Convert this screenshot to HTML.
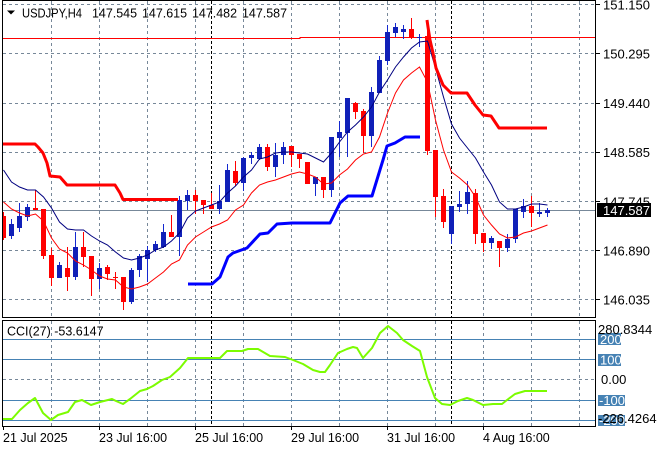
<!DOCTYPE html>
<html><head><meta charset="utf-8"><style>
html,body{margin:0;padding:0;background:#fff;}
svg{display:block;}
text{font-family:"Liberation Sans",Arial,sans-serif;}
</style></head><body>
<svg width="660" height="450" viewBox="0 0 660 450" xmlns="http://www.w3.org/2000/svg">
<rect width="660" height="450" fill="#fff"/>
<defs>
<clipPath id="m"><rect x="3" y="1" width="593" height="316"/></clipPath>
<clipPath id="c"><rect x="3" y="321" width="593" height="105"/></clipPath>
</defs>

<!-- main grid -->
<g stroke="#778899" stroke-width="1" stroke-dasharray="3,3" fill="none">
<line x1="51.5" y1="1" x2="51.5" y2="317"/><line x1="99.5" y1="1" x2="99.5" y2="317"/>
<line x1="147.5" y1="1" x2="147.5" y2="317"/><line x1="195.5" y1="1" x2="195.5" y2="317"/>
<line x1="243.5" y1="1" x2="243.5" y2="317"/><line x1="291.5" y1="1" x2="291.5" y2="317"/>
<line x1="339.5" y1="1" x2="339.5" y2="317"/><line x1="387.5" y1="1" x2="387.5" y2="317"/>
<line x1="435.5" y1="1" x2="435.5" y2="317"/><line x1="483.5" y1="1" x2="483.5" y2="317"/>
<line x1="531.5" y1="1" x2="531.5" y2="317"/><line x1="579.5" y1="1" x2="579.5" y2="317"/>
<line x1="3" y1="4.5" x2="596" y2="4.5"/><line x1="3" y1="53.5" x2="596" y2="53.5"/>
<line x1="3" y1="103.5" x2="596" y2="103.5"/><line x1="3" y1="152.5" x2="596" y2="152.5"/>
<line x1="3" y1="201.5" x2="596" y2="201.5"/><line x1="3" y1="250.5" x2="596" y2="250.5"/>
<line x1="3" y1="299.5" x2="596" y2="299.5"/>
</g>
<!-- CCI grid -->
<g stroke="#778899" stroke-width="1" stroke-dasharray="3,3" fill="none">
<line x1="51.5" y1="321" x2="51.5" y2="426"/><line x1="99.5" y1="321" x2="99.5" y2="426"/>
<line x1="147.5" y1="321" x2="147.5" y2="426"/><line x1="195.5" y1="321" x2="195.5" y2="426"/>
<line x1="243.5" y1="321" x2="243.5" y2="426"/><line x1="291.5" y1="321" x2="291.5" y2="426"/>
<line x1="339.5" y1="321" x2="339.5" y2="426"/><line x1="387.5" y1="321" x2="387.5" y2="426"/>
<line x1="435.5" y1="321" x2="435.5" y2="426"/><line x1="483.5" y1="321" x2="483.5" y2="426"/>
<line x1="531.5" y1="321" x2="531.5" y2="426"/><line x1="579.5" y1="321" x2="579.5" y2="426"/>
<line x1="3" y1="379.5" x2="596" y2="379.5"/>
</g>
<g stroke="#4682b4" stroke-width="1">
<line x1="3" y1="339.5" x2="596" y2="339.5"/><line x1="3" y1="359.5" x2="596" y2="359.5"/>
<line x1="3" y1="400.5" x2="596" y2="400.5"/><line x1="3" y1="420.5" x2="596" y2="420.5"/>
</g>
<!-- period separators -->
<g stroke="#000" stroke-width="1" stroke-dasharray="3,2">
<line x1="211.5" y1="1" x2="211.5" y2="317"/><line x1="451.5" y1="1" x2="451.5" y2="317"/>
<line x1="211.5" y1="321" x2="211.5" y2="426"/><line x1="451.5" y1="321" x2="451.5" y2="426"/>
</g>

<g clip-path="url(#m)">
<polyline points="3,38.5 300,38.5 300,37.5 596,37.5" fill="none" stroke="#ff0000" stroke-width="1"/>
<line x1="3" y1="210.5" x2="596" y2="210.5" stroke="#778899" stroke-width="1"/>

<!-- red candles -->
<g stroke="#ff0000" stroke-width="1">
<line x1="3.5" y1="212" x2="3.5" y2="240"/>
<line x1="35.5" y1="190" x2="35.5" y2="210"/>
<line x1="43.5" y1="209" x2="43.5" y2="259"/>
<line x1="51.5" y1="248" x2="51.5" y2="286"/>
<line x1="67.5" y1="247" x2="67.5" y2="291"/>
<line x1="83.5" y1="232" x2="83.5" y2="267"/>
<line x1="91.5" y1="256" x2="91.5" y2="296"/>
<line x1="107.5" y1="265" x2="107.5" y2="280"/>
<line x1="115.5" y1="272" x2="115.5" y2="289"/>
<line x1="123.5" y1="277" x2="123.5" y2="310"/>
<line x1="171.5" y1="215" x2="171.5" y2="237"/>
<line x1="195.5" y1="190" x2="195.5" y2="214"/>
<line x1="203.5" y1="200" x2="203.5" y2="214"/>
<line x1="211.5" y1="193" x2="211.5" y2="209"/>
<line x1="235.5" y1="161" x2="235.5" y2="186"/>
<line x1="267.5" y1="144" x2="267.5" y2="171"/>
<line x1="291.5" y1="146" x2="291.5" y2="167"/>
<line x1="299.5" y1="154" x2="299.5" y2="168"/>
<line x1="307.5" y1="162" x2="307.5" y2="184"/>
<line x1="323.5" y1="177" x2="323.5" y2="198"/>
<line x1="355.5" y1="102" x2="355.5" y2="119"/>
<line x1="363.5" y1="109" x2="363.5" y2="153"/>
<line x1="411.5" y1="18" x2="411.5" y2="39"/>
<line x1="427.5" y1="20" x2="427.5" y2="155"/>
<line x1="435.5" y1="150" x2="435.5" y2="217"/>
<line x1="443.5" y1="189" x2="443.5" y2="228"/>
<line x1="475.5" y1="189" x2="475.5" y2="244"/>
<line x1="483.5" y1="233" x2="483.5" y2="252"/>
<line x1="499.5" y1="241" x2="499.5" y2="267"/>
<line x1="531.5" y1="196" x2="531.5" y2="227"/>
</g>
<g fill="#ff0000">
<rect x="1" y="216" width="5" height="22"/>
<rect x="33" y="208" width="5" height="2"/>
<rect x="41" y="209" width="5" height="47"/>
<rect x="49" y="255" width="5" height="23"/>
<rect x="65" y="268" width="5" height="9"/>
<rect x="81" y="247" width="5" height="10"/>
<rect x="89" y="256" width="5" height="23"/>
<rect x="105" y="267" width="5" height="7"/>
<rect x="113" y="277" width="5" height="1"/>
<rect x="121" y="277" width="5" height="25"/>
<rect x="169" y="232" width="5" height="5"/>
<rect x="193" y="195" width="5" height="6"/>
<rect x="201" y="200" width="5" height="5"/>
<rect x="209" y="205" width="5" height="4"/>
<rect x="233" y="171" width="5" height="12"/>
<rect x="265" y="147" width="5" height="20"/>
<rect x="289" y="146" width="5" height="9"/>
<rect x="297" y="154" width="5" height="5"/>
<rect x="305" y="162" width="5" height="22"/>
<rect x="321" y="177" width="5" height="13"/>
<rect x="353" y="103" width="5" height="9"/>
<rect x="361" y="111" width="5" height="25"/>
<rect x="409" y="29" width="5" height="8"/>
<rect x="425" y="36" width="5" height="115"/>
<rect x="433" y="150" width="5" height="47"/>
<rect x="441" y="196" width="5" height="26"/>
<rect x="473" y="193" width="5" height="41"/>
<rect x="481" y="233" width="5" height="10"/>
<rect x="497" y="241" width="5" height="7"/>
<rect x="529" y="206" width="5" height="7"/>
</g>

<!-- blue candles -->
<g stroke="#1428d0" stroke-width="1">
<line x1="11.5" y1="219" x2="11.5" y2="239"/>
<line x1="19.5" y1="203" x2="19.5" y2="232"/>
<line x1="27.5" y1="204" x2="27.5" y2="221"/>
<line x1="59.5" y1="262" x2="59.5" y2="278"/>
<line x1="75.5" y1="232" x2="75.5" y2="280"/>
<line x1="99.5" y1="263" x2="99.5" y2="289"/>
<line x1="131.5" y1="268" x2="131.5" y2="304"/>
<line x1="139.5" y1="254" x2="139.5" y2="277"/>
<line x1="147.5" y1="246" x2="147.5" y2="282"/>
<line x1="155.5" y1="241" x2="155.5" y2="252"/>
<line x1="163.5" y1="224" x2="163.5" y2="248"/>
<line x1="179.5" y1="196" x2="179.5" y2="256"/>
<line x1="187.5" y1="190" x2="187.5" y2="210"/>
<line x1="219.5" y1="185" x2="219.5" y2="214"/>
<line x1="227.5" y1="164" x2="227.5" y2="202"/>
<line x1="243.5" y1="157" x2="243.5" y2="191"/>
<line x1="251.5" y1="152" x2="251.5" y2="164"/>
<line x1="259.5" y1="144" x2="259.5" y2="160"/>
<line x1="275.5" y1="143" x2="275.5" y2="177"/>
<line x1="283.5" y1="142" x2="283.5" y2="164"/>
<line x1="315.5" y1="177" x2="315.5" y2="196"/>
<line x1="331.5" y1="137" x2="331.5" y2="197"/>
<line x1="339.5" y1="121" x2="339.5" y2="157"/>
<line x1="347.5" y1="98" x2="347.5" y2="157"/>
<line x1="371.5" y1="87" x2="371.5" y2="147"/>
<line x1="379.5" y1="56" x2="379.5" y2="93"/>
<line x1="387.5" y1="25" x2="387.5" y2="65"/>
<line x1="395.5" y1="23" x2="395.5" y2="37"/>
<line x1="403.5" y1="25" x2="403.5" y2="39"/>
<line x1="419.5" y1="34" x2="419.5" y2="47"/>
<line x1="451.5" y1="206" x2="451.5" y2="244"/>
<line x1="459.5" y1="191" x2="459.5" y2="212"/>
<line x1="467.5" y1="181" x2="467.5" y2="214"/>
<line x1="491.5" y1="236" x2="491.5" y2="249"/>
<line x1="507.5" y1="234" x2="507.5" y2="252"/>
<line x1="515.5" y1="209" x2="515.5" y2="243"/>
<line x1="523.5" y1="199" x2="523.5" y2="218"/>
<line x1="539.5" y1="203" x2="539.5" y2="217"/>
<line x1="547.5" y1="208" x2="547.5" y2="217"/>
</g>
<g fill="#1020b8">
<rect x="9" y="224" width="5" height="12"/>
<rect x="17" y="216" width="5" height="12"/>
<rect x="25" y="207" width="5" height="10"/>
<rect x="57" y="265" width="5" height="13"/>
<rect x="73" y="247" width="5" height="30"/>
<rect x="97" y="268" width="5" height="11"/>
<rect x="129" y="270" width="5" height="32"/>
<rect x="137" y="256" width="5" height="14"/>
<rect x="145" y="250" width="5" height="9"/>
<rect x="153" y="244" width="5" height="6"/>
<rect x="161" y="232" width="5" height="15"/>
<rect x="177" y="200" width="5" height="37"/>
<rect x="185" y="195" width="5" height="6"/>
<rect x="217" y="201" width="5" height="8"/>
<rect x="225" y="170" width="5" height="32"/>
<rect x="241" y="158" width="5" height="25"/>
<rect x="249" y="155" width="5" height="3"/>
<rect x="257" y="147" width="5" height="12"/>
<rect x="273" y="155" width="5" height="12"/>
<rect x="281" y="147" width="5" height="8"/>
<rect x="313" y="177" width="5" height="7"/>
<rect x="329" y="137" width="5" height="53"/>
<rect x="337" y="132" width="5" height="6"/>
<rect x="345" y="98" width="5" height="35"/>
<rect x="369" y="92" width="5" height="44"/>
<rect x="377" y="60" width="5" height="33"/>
<rect x="385" y="32" width="5" height="29"/>
<rect x="393" y="27" width="5" height="6"/>
<rect x="401" y="29" width="5" height="3"/>
<rect x="417" y="37" width="5" height="1"/>
<rect x="449" y="206" width="5" height="28"/>
<rect x="457" y="204" width="5" height="3"/>
<rect x="465" y="192" width="5" height="12"/>
<rect x="489" y="238" width="5" height="5"/>
<rect x="505" y="239" width="5" height="9"/>
<rect x="513" y="209" width="5" height="30"/>
<rect x="521" y="206" width="5" height="6"/>
<rect x="537" y="212" width="5" height="2"/>
<rect x="545" y="210" width="5" height="3"/>
</g>

<!-- indicators -->
<polyline fill="none" stroke="#ff0000" stroke-width="1" points="3.5,202 11.5,209 19.5,213 27.5,216 35.5,214 43.5,221 51.5,238 59.5,249 67.5,253 75.5,261 83.5,265 91.5,270 99.5,276 107.5,279 115.5,280 123.5,287 131.5,289 139.5,287 147.5,284 155.5,278 163.5,272 171.5,264 179.5,260 187.5,245 195.5,237 203.5,232 211.5,227 219.5,224 227.5,220 235.5,210 243.5,205 251.5,193 259.5,185 267.5,182 275.5,180 283.5,177 291.5,174 299.5,172 307.5,174 315.5,177 323.5,184 331.5,183 339.5,175 347.5,169 355.5,160 363.5,154 371.5,152 379.5,137 387.5,113 395.5,93 403.5,80 411.5,73 419.5,67 427.5,82 435.5,120 443.5,150 451.5,172 459.5,178 467.5,185 475.5,197 483.5,215 491.5,225 499.5,234 507.5,238 515.5,237 523.5,233 531.5,231 539.5,228 547.5,225"/>
<polyline fill="none" stroke="#000080" stroke-width="1" points="3.5,170 11.5,182 19.5,187 27.5,190 35.5,190 43.5,197 51.5,208 59.5,222 67.5,229 75.5,230 83.5,230 91.5,236 99.5,241 107.5,245 115.5,252 123.5,258 131.5,260 139.5,258 147.5,255 155.5,250 163.5,247 171.5,241 179.5,233 187.5,218 195.5,211 203.5,208 211.5,205 219.5,202 227.5,193 235.5,186 243.5,177 251.5,170 259.5,159 267.5,157 275.5,153 283.5,152 291.5,152 299.5,153 307.5,154 315.5,158 323.5,162 331.5,153 339.5,142 347.5,132 355.5,125 363.5,117 371.5,107 379.5,92 387.5,80 395.5,67 403.5,57 411.5,48 419.5,42 427.5,41 435.5,68 443.5,97 451.5,124 459.5,138 467.5,148 475.5,158 483.5,172 491.5,185 499.5,202 507.5,209 515.5,209 523.5,207 531.5,204 539.5,204 547.5,205"/>
<polyline fill="none" stroke="#ff0000" stroke-width="3" stroke-linejoin="round" points="3,144 35,144 38,147 43,153 47,163 50,176 60,177 67,185 115,185 120,193 123,199.5 178,199.5"/>
<polyline fill="none" stroke="#ff0000" stroke-width="3" stroke-linejoin="round" points="427,20 428,27 430,40 433,53 436,68 443,85 451,93 467,93 475,105 483,115 491,116 499,128 547,128"/>
<polyline fill="none" stroke="#0000ff" stroke-width="3" stroke-linejoin="round" points="188,284 212,284 220,277 228,257 233,253 247,248 260,234 268,233 277,224 292,223 330,223 340,203 348,196 372,196 383,160 387,146 395,143 405,137 420,137"/>
</g>

<!-- CCI line -->
<g clip-path="url(#c)">
<polyline fill="none" stroke="#7cfc00" stroke-width="2" stroke-linejoin="round" points="3,419 12,419 20,410 28,403 35,398 43,413 51,420 58,415 68,412 75,402 82,400 91,405 100,402 112,399 116,401 123,404 130,399 140,391 147,389 153,386 162,380 170,377 180,368 188,358 200,358 220,358 227,351 242,351 248,349 258,349 270,356 285,357 293,360 303,364 313,370 320,372 325,372 330,365 338,353 347,349 353,347 357,348 363,358 372,348 380,333 388,326 397,333 403,340 412,346 420,351 427,377 435,398 442,404 450,405 458,401 467,398 473,400 483,405 493,404 502,404 507,400 515,394 525,391 533,391 547,391"/>
</g>

<!-- frames -->
<rect x="2.5" y="0.5" width="593" height="317" fill="none" stroke="#000" stroke-width="1"/>
<rect x="2.5" y="320.5" width="593" height="106" fill="none" stroke="#000" stroke-width="1"/>

<!-- header -->
<polygon points="7,10.5 15,10.5 11,14.5" fill="#000"/>
<text x="22" y="17.5" font-size="12.5" fill="#000" textLength="60" lengthAdjust="spacingAndGlyphs">USDJPY,H4</text>
<text x="92" y="17.5" font-size="12.5" fill="#000" textLength="45" lengthAdjust="spacingAndGlyphs">147.545</text>
<text x="142" y="17.5" font-size="12.5" fill="#000" textLength="45" lengthAdjust="spacingAndGlyphs">147.615</text>
<text x="192" y="17.5" font-size="12.5" fill="#000" textLength="45" lengthAdjust="spacingAndGlyphs">147.482</text>
<text x="242" y="17.5" font-size="12.5" fill="#000" textLength="45" lengthAdjust="spacingAndGlyphs">147.587</text>

<!-- ticks -->
<g stroke="#000" stroke-width="1">
<line x1="596" y1="4.5" x2="600" y2="4.5"/><line x1="596" y1="53.5" x2="600" y2="53.5"/>
<line x1="596" y1="103.5" x2="600" y2="103.5"/><line x1="596" y1="152.5" x2="600" y2="152.5"/>
<line x1="596" y1="201.5" x2="600" y2="201.5"/><line x1="596" y1="250.5" x2="600" y2="250.5"/>
<line x1="596" y1="299.5" x2="600" y2="299.5"/>
<line x1="3.5" y1="427" x2="3.5" y2="430"/><line x1="99.5" y1="427" x2="99.5" y2="430"/>
<line x1="195.5" y1="427" x2="195.5" y2="430"/><line x1="291.5" y1="427" x2="291.5" y2="430"/>
<line x1="387.5" y1="427" x2="387.5" y2="430"/><line x1="483.5" y1="427" x2="483.5" y2="430"/>
</g>

<!-- right axis labels -->
<g font-size="13" fill="#000">
<text x="603" y="9.5">151.150</text>
<text x="603" y="58.5">150.295</text>
<text x="603" y="108">149.440</text>
<text x="603" y="157">148.585</text>
<text x="603" y="206.5">147.745</text>
<text x="603" y="255.5">146.890</text>
<text x="603" y="304.5">146.035</text>
</g>
<rect x="597" y="203" width="54" height="14" fill="#000"/>
<text x="603" y="215" font-size="13" fill="#fff">147.587</text>

<!-- CCI labels -->
<text x="7" y="335.5" font-size="12.5" fill="#000">CCI(27) -53.6147</text>
<rect x="598" y="333" width="23" height="12" fill="#4682b4"/>
<rect x="598" y="354" width="23" height="12" fill="#4682b4"/>
<rect x="598" y="395" width="27" height="11" fill="#4682b4"/>
<rect x="598" y="415" width="27" height="11" fill="#4682b4"/>
<g font-size="13">
<text x="600" y="344" fill="#fff">200</text>
<text x="600" y="364.5" fill="#fff">100</text>
<text x="599" y="405" fill="#fff">-100</text>
<text x="599" y="425" fill="#fff">-200</text>
<text x="598" y="334" fill="#000">280.8344</text>
<text x="601" y="384" fill="#000">0.00</text>
<text x="598" y="423" fill="#000">-226.4264</text>
</g>

<!-- bottom axis labels -->
<g font-size="12.5" fill="#000">
<text x="3" y="442">21 Jul 2025</text>
<text x="99" y="442">23 Jul 16:00</text>
<text x="195" y="442">25 Jul 16:00</text>
<text x="291" y="442">29 Jul 16:00</text>
<text x="387" y="442">31 Jul 16:00</text>
<text x="483" y="442">4 Aug 16:00</text>
</g>
</svg>
</body></html>
